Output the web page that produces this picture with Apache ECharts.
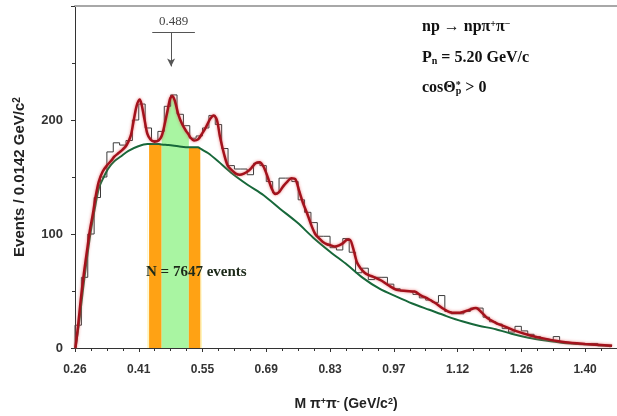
<!DOCTYPE html>
<html>
<head>
<meta charset="utf-8">
<script src="https://cdn.jsdelivr.net/npm/echarts@6/dist/echarts.min.js"></script>
<style>
  html, body { margin: 0; padding: 0; background: #fff; }
  #main { width: 617px; height: 416px; }
</style>
</head>
<body>
<div id="main"></div>
<script>
// histogram: bins of 0.0142 GeV/c^2, first bin starts at 0.264
var binStart = 0.264;
var binWidth = 0.0142;
var histCounts = [20, 62, 100, 132, 150, 172, 180, 178, 182, 200,
  214, 193, 182, 190, 212, 222, 205, 195, 184, 186,
  193, 204, 196, 175, 160, 157, 157, 152, 162, 160,
  146, 136, 149, 149, 146, 130, 119, 110, 98, 98,
  88, 86, 96, 84, 66, 70, 60, 62, 62, 56,
  52, 50, 49, 47, 44, 42, 40, 46, 32, 30,
  30, 32, 35, 35, 27, 23, 21, 17, 14, 19,
  15, 12, 10, 8, 7, 10, 5, 4, 3, 3,
  4, 4, 2, 1];

// full fit (red)
var fitMass = [0.265, 0.271, 0.277, 0.284, 0.291, 0.297, 0.304, 0.310, 0.317, 0.326,
  0.335, 0.344, 0.352, 0.361, 0.370, 0.379, 0.388, 0.394, 0.401, 0.408,
  0.412, 0.419, 0.425, 0.432, 0.441, 0.450, 0.457, 0.463, 0.470, 0.476,
  0.481, 0.487, 0.494, 0.503, 0.512, 0.5175, 0.520, 0.529, 0.538, 0.547,
  0.556, 0.565, 0.573, 0.580, 0.587, 0.596, 0.604, 0.613, 0.622, 0.631,
  0.640, 0.649, 0.657, 0.666, 0.675, 0.684, 0.693, 0.702, 0.710, 0.719,
  0.728, 0.737, 0.746, 0.755, 0.763, 0.772, 0.781, 0.790, 0.799, 0.808,
  0.816, 0.825, 0.834, 0.843, 0.852, 0.861, 0.870, 0.876, 0.883, 0.892,
  0.900, 0.909, 0.918, 0.931, 0.947, 0.962, 0.980, 1.002, 1.020, 1.035,
  1.051, 1.068, 1.086, 1.104, 1.121, 1.139, 1.157, 1.170, 1.183, 1.201,
  1.223, 1.245, 1.278, 1.312, 1.356, 1.400, 1.460];
var fitEvents = [0, 20, 43, 66, 86, 103, 118, 133, 146, 155,
  160, 164, 168, 171, 174, 178, 186, 198, 212, 218,
  214, 200, 188, 183, 181, 182, 186, 195, 208, 219,
  221, 216, 205, 196, 190, 187, 185, 182, 183, 188,
  194, 201, 204, 200, 185, 170, 160, 156, 153, 152,
  153, 155, 158, 162, 163, 159, 150, 140, 135, 137,
  142, 146, 149, 148, 138, 127, 118, 108, 100, 96,
  93, 91, 90, 89, 90, 92, 95, 95, 88, 75,
  70, 66, 64, 62, 59, 55, 51, 50, 49.5, 46,
  43, 39, 34, 31, 31, 33, 35, 31, 26, 22,
  18.5, 15, 11, 8, 5, 3.5, 2];

// background (green)
var bgMass = [0.265, 0.273, 0.282, 0.291, 0.299, 0.308, 0.317, 0.328, 0.339, 0.352,
  0.366, 0.383, 0.405, 0.425, 0.429, 0.450, 0.457, 0.472, 0.494, 0.5175,
  0.538, 0.543, 0.547, 0.560, 0.582, 0.611, 0.649, 0.684, 0.721, 0.759,
  0.794, 0.832, 0.870, 0.905, 0.942, 0.980, 1.015, 1.053, 1.091, 1.126,
  1.163, 1.201, 1.236, 1.274, 1.312, 1.347, 1.385, 1.422, 1.460];
var bgEvents = [0, 22, 52, 80, 102, 122, 140, 150, 158, 164,
  168, 173, 177, 179, 179, 179, 178.5, 178, 177, 176,
  176, 175, 174, 171, 164, 154, 143, 134, 122, 110,
  97, 84.5, 73, 61.5, 52, 45, 39, 33.5, 28, 23.4,
  19.5, 16.5, 12.5, 9, 6.5, 4.6, 3.5, 2.6, 2];

// selected mass windows
var bandOrangeLeft = [0.429, 0.457];
var bandGreen = [0.457, 0.5175];
var bandOrangeRight = [0.5175, 0.543];
var edgeLeft = [0.425, 0.429];
var edgeRight = [0.543, 0.547];

var xTickLabels = ['0.26', '0.41', '0.55', '0.69', '0.83', '0.97', '1.12', '1.26', '1.40'];

// arrow annotation (mass, events)
var arrowMass = 0.478;
var arrowTop = 277, arrowTip = 247;
var arrowBar = [0.436, 0.531];
var arrowText = '0.489';

function toU(m) { return (m - binStart) / binWidth; }

function pairs(xs, ys, lo, hi) {
  var out = [];
  for (var i = 0; i < xs.length; i++) {
    if (lo === undefined || (xs[i] >= lo - 1e-9 && xs[i] <= hi + 1e-9)) out.push([toU(xs[i]), ys[i]]);
  }
  return out;
}

var histSteps = [[0, 0]];
histCounts.forEach(function (c, k) {
  histSteps.push([k, c]);
  histSteps.push([k + 1, c]);
});

var chart = echarts.init(document.getElementById('main'));

var axisFont = 'Liberation Sans, Arial, sans-serif';
var serif = 'Liberation Serif, Times New Roman, serif';

function bandSeries(data, color) {
  return {
    type: 'line', data: data, symbol: 'none', silent: true, z: 1,
    lineStyle: { width: 0 },
    areaStyle: { color: color, opacity: 1 }
  };
}

var option = {
  animation: false,
  grid: { left: 75, top: 6, width: 546, height: 346 },
  xAxis: [{
    type: 'value', min: 0, max: 85, interval: 10,
    axisLine: { lineStyle: { color: '#333', width: 1 } },
    axisTick: { show: true, length: 4, lineStyle: { color: '#333' } },
    minorTick: { show: true, splitNumber: 4, length: 3, lineStyle: { color: '#333' } },
    splitLine: { show: false },
    axisLabel: {
      margin: 16, fontSize: 12, fontWeight: 'bold', color: '#333', fontFamily: axisFont,
      showMaxLabel: false,
      formatter: function (v) {
        var i = Math.round(v / 10);
        return Math.abs(v - i * 10) < 1e-6 && xTickLabels[i] ? xTickLabels[i] : '';
      }
    },
    name: '{n|M π}{s|+}{n|π}{s|-}{n| (GeV/c}{s|2}{n|)}',
    nameLocation: 'middle', nameGap: 49,
    nameTextStyle: {
      rich: {
        n: { fontSize: 14, fontWeight: 'bold', color: '#222', fontFamily: axisFont },
        s: { fontSize: 9, fontWeight: 'bold', color: '#222', fontFamily: axisFont, verticalAlign: 'top', lineHeight: 14 }
      }
    }
  }, {
    type: 'value', position: 'top', min: 0, max: 85,
    axisLine: { lineStyle: { color: '#a8a8a8', width: 2 } },
    axisTick: { show: false }, axisLabel: { show: false }, splitLine: { show: false }
  }],
  yAxis: {
    type: 'value', min: 0, max: 300, interval: 100,
    axisLine: { show: true, lineStyle: { color: '#333', width: 1 } },
    axisTick: { show: true, length: 4, lineStyle: { color: '#333' } },
    minorTick: { show: true, splitNumber: 2, length: 3, lineStyle: { color: '#333' } },
    splitLine: { show: false },
    axisLabel: { margin: 12, fontSize: 13, fontWeight: 'bold', color: '#333', fontFamily: axisFont, showMaxLabel: false },
    name: '{n|Events / 0.0142 GeV/c}{s|2}',
    nameLocation: 'middle', nameGap: 48,
    nameTextStyle: {
      rich: {
        n: { fontSize: 15, fontWeight: 'bold', color: '#222', fontFamily: axisFont },
        s: { fontSize: 10, fontWeight: 'bold', color: '#222', fontFamily: axisFont, verticalAlign: 'top', lineHeight: 15 }
      }
    }
  },
  series: [
    bandSeries(pairs(bgMass, bgEvents, edgeLeft[0], edgeLeft[1]), '#fff4b8'),
    bandSeries(pairs(bgMass, bgEvents, edgeRight[0], edgeRight[1]), '#fff4b8'),
    bandSeries(pairs(bgMass, bgEvents, bandOrangeLeft[0], bandOrangeLeft[1]), '#ffa214'),
    bandSeries(pairs(fitMass, fitEvents, bandGreen[0], bandGreen[1]), '#a9f5a2'),
    bandSeries(pairs(bgMass, bgEvents, bandOrangeRight[0], bandOrangeRight[1]), '#ffa214'),
    {
      name: 'data', type: 'line', data: histSteps, symbol: 'none', z: 2,
      lineStyle: { color: '#3a3a3a', width: 1 }
    },
    {
      name: 'background', type: 'line', data: pairs(bgMass, bgEvents), symbol: 'none', smooth: 0.3, z: 3,
      lineStyle: { color: '#17683a', width: 2 }
    },
    {
      name: 'fit', type: 'line', data: pairs(fitMass, fitEvents), symbol: 'none', smooth: 0.3, z: 4,
      lineStyle: { color: '#a3121c', width: 2.5, shadowColor: 'rgba(230,90,90,0.8)', shadowBlur: 3 },
      markLine: {
        silent: true, symbol: ['none', 'arrow'], symbolSize: [6, 8],
        lineStyle: { color: '#555', width: 1, type: 'solid' },
        label: { show: false },
        data: [
          [{ coord: [toU(arrowMass), arrowTop] }, { coord: [toU(arrowMass), arrowTip] }],
          [{ coord: [toU(arrowBar[0]), arrowTop], symbol: 'none' },
           { coord: [toU(arrowBar[1]), arrowTop], symbol: 'none',
             label: { show: true, position: 'insideMiddleTop', distance: 4, formatter: arrowText,
               fontFamily: serif, fontSize: 13, color: '#444' } }]
        ]
      }
    }
  ],
  graphic: [
    {
      type: 'text', left: 422, top: 19, silent: true,
      style: {
        text: '{a|np → npπ}{s|+}{a|π}{s|−}',
        rich: {
          a: { fontFamily: serif, fontWeight: 'bold', fontSize: 16, fill: '#111' },
          s: { fontFamily: serif, fontWeight: 'bold', fontSize: 10, fill: '#111', verticalAlign: 'top' }
        }
      }
    },
    {
      type: 'text', left: 422, top: 50, silent: true,
      style: {
        text: '{a|P}{b|n}{a| = 5.20 GeV/c}',
        rich: {
          a: { fontFamily: serif, fontWeight: 'bold', fontSize: 16, fill: '#111' },
          b: { fontFamily: serif, fontWeight: 'bold', fontSize: 10, fill: '#111', verticalAlign: 'bottom' }
        }
      }
    },
    {
      type: 'text', left: 422, top: 80, silent: true,
      style: {
        text: '{a|cosΘ}{s|*}{b|p}{a| > 0}',
        rich: {
          a: { fontFamily: serif, fontWeight: 'bold', fontSize: 16, fill: '#111' },
          s: { fontFamily: serif, fontWeight: 'bold', fontSize: 10, fill: '#111', verticalAlign: 'top' },
          b: { fontFamily: serif, fontWeight: 'bold', fontSize: 10, fill: '#111', verticalAlign: 'bottom', padding: [0, 0, 0, -5] }
        }
      }
    },
    {
      type: 'text', left: 146, top: 265, silent: true, z: 10,
      style: { text: 'N = 7647 events', font: 'bold 15px ' + serif, fill: '#1d2a1a' }
    }
  ]
};

chart.setOption(option);
</script>
</body>
</html>
